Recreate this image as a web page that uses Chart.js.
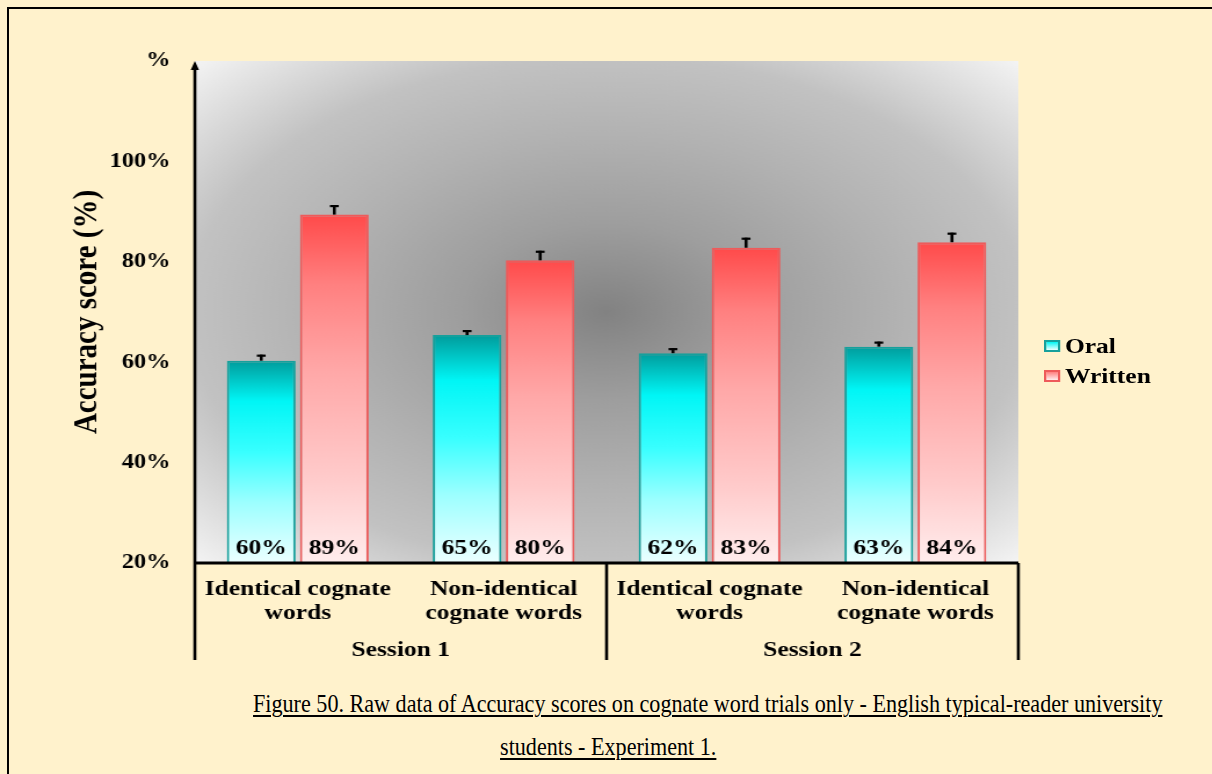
<!DOCTYPE html>
<html>
<head>
<meta charset="utf-8">
<script src="https://cdn.jsdelivr.net/npm/chart.js@4.4.1/dist/chart.umd.min.js"></script>
<style>
  html, body { margin: 0; padding: 0; background: #fff2cc; }
  body { width: 1212px; height: 774px; position: relative; overflow: hidden; font-family: "Liberation Serif", "Times New Roman", serif; }
  #frame { position: absolute; left: 7px; top: 7px; width: 1230px; height: 800px; border-left: 2px solid #000; border-top: 2px solid #000; }
  #chartCanvas { position: absolute; left: 0; top: 0; width: 1212px; height: 680px; }
  #legend { position: absolute; left: 1044px; top: 331px; transform: scaleX(1.16); transform-origin: 0 0; }
  #legend .item { height: 30px; line-height: 30px; font-size: 22px; font-weight: bold; color: #000; white-space: nowrap; }
  #legend .swatch { display: inline-block; width: 10px; height: 8px; border: 2px solid; margin-right: 4px; vertical-align: 1px; }
  .caption { position: absolute; font-size: 25px; color: #000; text-decoration: underline; text-decoration-thickness: 1.5px; text-underline-offset: 3px; white-space: nowrap; transform-origin: 50% 50%; }
</style>
</head>
<body>
<div id="frame"></div>
<canvas id="chartCanvas" width="1045" height="680" style="width:1212px;height:680px"></canvas>
<div id="legend"></div>
<div class="caption" id="cap1">Figure 50. Raw data of Accuracy scores on cognate word trials only - English typical-reader university</div>
<div class="caption" id="cap2">students - Experiment 1.</div>
<script>
// Chart data
const categories = [
    ["Identical cognate", "words"],
    ["Non-identical", "cognate words"],
    ["Identical cognate", "words"],
    ["Non-identical", "cognate words"],
];
const sessions = ["Session 1", "Session 2"];
const seriesNames = ["Oral", "Written"];
const oralValues = [60.3, 65.4, 61.8, 63.1];
const writtenValues = [89.4, 80.3, 82.8, 83.9];
const oralErrors = [1.2, 1.0, 1.0, 1.0];
const writtenErrors = [1.9, 1.9, 2.0, 1.9];
const yTicks = [20, 40, 60, 80, 100, 120];
const yTickLabels = ["20%", "40%", "60%", "80%", "100%", "%"];

const serif = '"Liberation Serif", "Times New Roman", serif';

// gradient stops for the bars (top -> bottom)
const oralStops = [[0, "#009c9c"], [0.2, "#00f6f6"], [0.45, "#38ffff"], [0.7, "#9cffff"], [1, "#ecffff"]];
const writtenStops = [[0, "#ff4a4a"], [0.2, "#ff8080"], [0.45, "#ffa8a8"], [0.75, "#ffcaca"], [1, "#ffeded"]];

function barGradient(context, stops) {
    const chart = context.chart;
    const area = chart.chartArea;
    if (!area) return stops[1][1];
    const top = chart.scales.y.getPixelForValue(context.raw);
    const g = chart.ctx.createLinearGradient(0, top, 0, area.bottom);
    stops.forEach((s) => g.addColorStop(s[0], s[1]));
    return g;
}

// grey radial background behind the bars
const plotBackground = {
    id: "plotBackground",
    beforeDatasetsDraw(chart) {
        const { ctx, chartArea: a } = chart;
        const cx = (a.left + a.right) / 2;
        const cy = (a.top + a.bottom) / 2;
        ctx.save();
        ctx.beginPath();
        ctx.rect(a.left, a.top, a.right - a.left, a.bottom - a.top);
        ctx.clip();
        ctx.translate(cx, cy);
        ctx.scale((a.right - a.left) / 2, (a.bottom - a.top) / 2);
        const g = ctx.createRadialGradient(0, 0, 0, 0, 0, Math.SQRT2);
        g.addColorStop(0, "#828282");
        g.addColorStop(0.25, "#9e9e9e");
        g.addColorStop(0.5, "#b2b2b2");
        g.addColorStop(0.72, "#c2c2c2");
        g.addColorStop(1, "#f4f4f4");
        ctx.fillStyle = g;
        ctx.fillRect(-1, -1, 2, 2);
        ctx.restore();
    },
};

// error bars and value labels on the bars
const barExtras = {
    id: "barExtras",
    afterDatasetsDraw(chart) {
        const { ctx, chartArea: a, scales: { y } } = chart;
        ctx.save();
        chart.data.datasets.forEach((ds, i) => {
            const meta = chart.getDatasetMeta(i);
            meta.data.forEach((bar, j) => {
                const top = y.getPixelForValue(ds.data[j] + ds.errors[j]);
                ctx.strokeStyle = "#000";
                ctx.lineWidth = 2.6;
                ctx.beginPath();
                ctx.moveTo(bar.x, bar.y);
                ctx.lineTo(bar.x, top);
                ctx.stroke();
                ctx.lineWidth = 2.2;
                ctx.beginPath();
                ctx.moveTo(bar.x - 3.8, top + 1);
                ctx.lineTo(bar.x + 3.8, top + 1);
                ctx.stroke();

                ctx.fillStyle = "#000";
                ctx.font = "bold 22px " + serif;
                ctx.textAlign = "center";
                ctx.textBaseline = "middle";
                ctx.fillText(Math.round(ds.data[j]) + "%", bar.x, a.bottom - 15);
            });
        });
        ctx.restore();
    },
};

// axis lines, arrow, session boxes
const frameLines = {
    id: "frameLines",
    afterDraw(chart) {
        const { ctx, chartArea: a, scales: { x } } = chart;
        const boxBottom = 660;
        const mid = (x.getPixelForValue(1) + x.getPixelForValue(2)) / 2;
        ctx.save();
        ctx.strokeStyle = "#000";
        ctx.fillStyle = "#000";
        ctx.lineWidth = 2.6;
        ctx.beginPath();
        ctx.moveTo(a.left, a.top + 6);
        ctx.lineTo(a.left, boxBottom);
        ctx.stroke();
        ctx.beginPath();
        ctx.moveTo(a.left, a.top);
        ctx.lineTo(a.left - 3.6, a.top + 9);
        ctx.lineTo(a.left + 3.6, a.top + 9);
        ctx.closePath();
        ctx.fill();

        ctx.lineWidth = 3;
        ctx.beginPath();
        ctx.moveTo(a.left, a.bottom);
        ctx.lineTo(a.right, a.bottom);
        ctx.stroke();

        ctx.lineWidth = 2.6;
        [mid, a.right].forEach((px) => {
            ctx.beginPath();
            ctx.moveTo(px, a.bottom);
            ctx.lineTo(px, boxBottom);
            ctx.stroke();
        });

        ctx.font = "bold 22px " + serif;
        ctx.textAlign = "center";
        ctx.textBaseline = "middle";
        ctx.fillText(sessions[0], (a.left + mid) / 2, 650);
        ctx.fillText(sessions[1], (mid + a.right) / 2, 650);
        ctx.restore();
    },
};

const chart = new Chart(document.getElementById("chartCanvas"), {
    type: "bar",
    data: {
        labels: categories,
        datasets: [
            {
                label: seriesNames[0],
                data: oralValues,
                errors: oralErrors,
                backgroundColor: (c) => barGradient(c, oralStops),
                borderColor: "#16a09c",
                borderWidth: 2,
                borderSkipped: "bottom",
            },
            {
                label: seriesNames[1],
                data: writtenValues,
                errors: writtenErrors,
                backgroundColor: (c) => barGradient(c, writtenStops),
                borderColor: "#ee5a5a",
                borderWidth: 2,
                borderSkipped: "bottom",
            },
        ],
    },
    options: {
        responsive: false,
        animation: false,
        devicePixelRatio: 1,
        categoryPercentage: 0.71,
        barPercentage: 0.94,
        layout: { padding: { left: 0, right: 167, top: 61, bottom: 0 } },
        plugins: {
            legend: { display: false },
            tooltip: { enabled: false },
        },
        scales: {
            x: {
                offset: true,
                grid: { display: false, drawTicks: false },
                border: { display: false },
                ticks: {
                    color: "#000",
                    font: { family: serif, size: 22, weight: "bold", lineHeight: 1.1 },
                    padding: 14,
                    maxRotation: 0,
                    autoSkip: false,
                },
                afterFit: (s) => { s.height = 117; },
            },
            y: {
                min: 20,
                max: 120,
                afterBuildTicks: (s) => { s.ticks = yTicks.map((v) => ({ value: v })); },
                grid: { display: false, drawTicks: false },
                border: { display: false },
                ticks: {
                    color: "#000",
                    font: { family: serif, size: 21, weight: "bold" },
                    padding: 21,
                    callback: (v, i) => yTickLabels[i],
                },
                title: {
                    display: true,
                    text: "Accuracy score (%)",
                    color: "#000",
                    font: { family: serif, size: 29, weight: "bold" },
                    padding: { top: 58, bottom: 0 },
                },
                afterFit: (s) => { s.width = 168; },
            },
        },
    },
    plugins: [plotBackground, barExtras, frameLines],
});

// legend
const legendColors = [["#16a09c", oralStops], ["#ee5a5a", writtenStops]];
const legend = document.getElementById("legend");
seriesNames.forEach((name, i) => {
    const item = document.createElement("div");
    item.className = "item";
    const sw = document.createElement("span");
    sw.className = "swatch";
    const stops = legendColors[i][1];
    sw.style.borderColor = legendColors[i][0];
    sw.style.background = "linear-gradient(" + stops[1][1] + ", " + stops[4][1] + ")";
    item.appendChild(sw);
    item.appendChild(document.createTextNode(name));
    legend.appendChild(item);
});

// caption: fit first line to the original width
const cap1 = document.getElementById("cap1");
const cap2 = document.getElementById("cap2");
const k = 909 / cap1.offsetWidth;
[[cap1, 707.5, 704], [cap2, 608, 747]].forEach(([el, cx, cy]) => {
    el.style.left = (cx - el.offsetWidth / 2) + "px";
    el.style.top = (cy - el.offsetHeight / 2) + "px";
    el.style.transform = "scaleX(" + k + ")";
});
</script>
</body>
</html>
